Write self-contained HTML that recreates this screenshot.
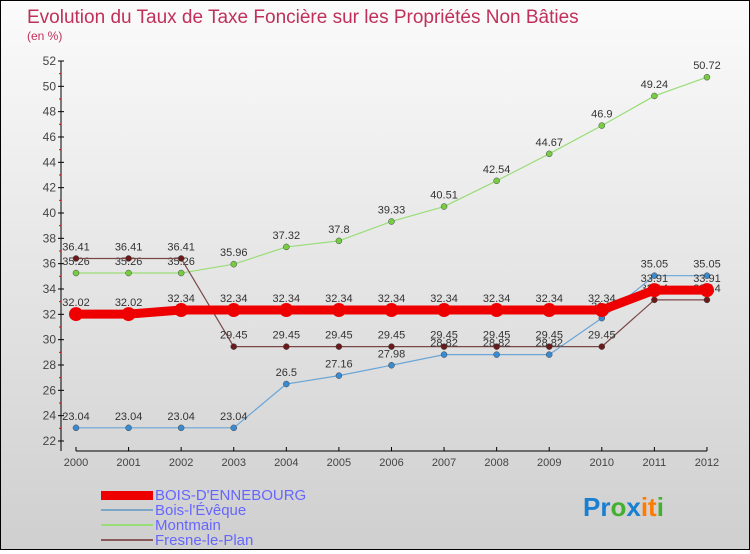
<!DOCTYPE html>
<html><head><meta charset="utf-8"><style>
body{margin:0}
#wrap{width:748px;height:548px;border:1px solid #000;background:linear-gradient(#fbfbfb,#cfcfcf);position:relative;font-family:"Liberation Sans",sans-serif}
svg text{font-family:"Liberation Sans",sans-serif}
</style></head><body>
<div id="wrap">
<svg id="chart" width="748" height="548">
<text x="26" y="22" font-size="19" fill="#c0305a">Evolution du Taux de Taxe Foncière sur les Propriétés Non Bâties</text>
<text x="26" y="39" font-size="12" fill="#c0305a">(en %)</text>
<g id="axes"></g><g id="series"></g>
<g>
<rect x="100" y="490" width="52" height="9" fill="#e00"/>
<text x="154" y="499" font-size="15" fill="#6666ff">BOIS-D'ENNEBOURG</text>
<rect x="100" y="508" width="52" height="2" fill="#7aa6c8"/>
<text x="154" y="514" font-size="15" fill="#6666ff">Bois-l'Évêque</text>
<rect x="100" y="523" width="52" height="2" fill="#99dd77"/>
<text x="154" y="529" font-size="15" fill="#6666ff">Montmain</text>
<rect x="100" y="538" width="52" height="2" fill="#8a5a5a"/>
<text x="154" y="544" font-size="15" fill="#6666ff">Fresne-le-Plan</text>
</g>
<text x="582" y="515" font-size="26" font-weight="bold"><tspan fill="#1a7fd0">Pr</tspan><tspan fill="#44b030">o</tspan><tspan fill="#1a7fd0">x</tspan><tspan fill="#ff7a00">it</tspan><tspan fill="#44b030">i</tspan></text>
</svg></div>
<script>
const years=[2000,2001,2002,2003,2004,2005,2006,2007,2008,2009,2010,2011,2012];
const yTicks=[22,24,26,28,30,32,34,36,38,40,42,44,46,48,50,52];
const boisDennebourg=[32.02,32.02,32.34,32.34,32.34,32.34,32.34,32.34,32.34,32.34,32.34,33.91,33.91];
const boisLeveque=[23.04,23.04,23.04,23.04,26.5,27.16,27.98,28.82,28.82,28.82,31.7,35.05,35.05];
const montmain=[35.26,35.26,35.26,35.96,37.32,37.8,39.33,40.51,42.54,44.67,46.9,49.24,50.72];
const fresne=[36.41,36.41,36.41,29.45,29.45,29.45,29.45,29.45,29.45,29.45,29.45,33.14,33.14];
const NS="http://www.w3.org/2000/svg";
const x=i=>75+i*52.58;
const y=v=>440-(v-22)*12.667;
function mk(t,a,p){const e=document.createElementNS(NS,t);for(const k in a)e.setAttribute(k,a[k]);p.appendChild(e);return e;}
const ax=document.getElementById('axes'),sg=document.getElementById('series');
let l=mk('line',{x1:60,y1:60,x2:60,y2:450,stroke:'#000'},ax);


l=mk('line',{x1:75,y1:450,x2:706,y2:450,stroke:'#000'},ax);


yTicks.forEach(v=>{
 mk('line',{x1:57,y1:y(v),x2:63,y2:y(v),stroke:'#000'},ax);
 if(v<52)mk('line',{x1:58,y1:y(v+1),x2:60,y2:y(v+1),stroke:'#e00'},ax);
 const t=mk('text',{x:55,y:y(v)+4,'font-size':12,fill:'#444','text-anchor':'end'},ax);t.textContent=v;
 
 
});
years.forEach((yr,i)=>{
 mk('line',{x1:x(i),y1:446,x2:x(i),y2:450,stroke:'#000'},ax);
 const t=mk('text',{x:x(i),y:465,'font-size':11,fill:'#444','text-anchor':'middle'},ax);t.textContent=yr;
 
 
});
function series(d,color,w,r,dot,name){
 const p=mk('polyline',{points:d.map((v,i)=>x(i)+','+y(v)).join(' '),fill:'none',stroke:color,'stroke-width':w,'stroke-linejoin':'round'},sg);
 
 
 d.forEach((v,i)=>{
  const c=mk('circle',{cx:x(i),cy:y(v),r:r,fill:dot,stroke:'#444','stroke-width':r>5?0:0.5},sg);
  
  
  const t=mk('text',{x:x(i),y:y(v)-8,'font-size':11,fill:'#333','text-anchor':'middle'},sg);t.textContent=v;
  
  
 });
}
series(montmain,'#99dd77',1.2,3,'#77cc44','montmain');
series(fresne,'#7a4848',1.2,3,'#6a1a1a','fresne-le-plan');
series(boisLeveque,'#6aa6d8',1.2,3,'#3a8ad0','bois-leveque');
series(boisDennebourg,'#ee0000',9,7,'#ee0000','bois-dennebourg');
</script>
</body></html>
